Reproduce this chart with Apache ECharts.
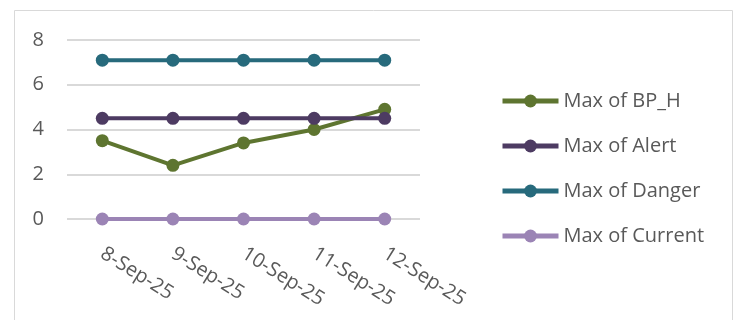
<!DOCTYPE html>
<html><head><meta charset="utf-8">
<script src="https://cdn.jsdelivr.net/npm/echarts@6/dist/echarts.min.js"></script>
<style>html,body{margin:0;padding:0;background:#fff}#c{width:738px;height:320px}</style>
</head><body><div id="c"></div>
<script>
const categories = ['8-Sep-25','9-Sep-25','10-Sep-25','11-Sep-25','12-Sep-25'];
const seriesNames = ['Max of BP_H','Max of Alert','Max of Danger','Max of Current'];
const bpH = [3.5, 2.4, 3.4, 4.0, 4.9];
const alertV = [4.5, 4.5, 4.5, 4.5, 4.5];
const dangerV = [7.1, 7.1, 7.1, 7.1, 7.1];
const currentV = [0, 0, 0, 0, 0];
const yTicks = [0, 2, 4, 6, 8];

const colors = ['#5E7530', '#4D3B62', '#276A7C', '#9B84B5'];
const dataSets = [bpH, alertV, dangerV, currentV];
const font = '"Open Sans", "Noto Sans", sans-serif';

const chart = echarts.init(document.getElementById('c'));
const series = seriesNames.map((n, i) => ({
  name: n, type: 'line', data: dataSets[i],
  symbol: 'circle', symbolSize: 13,
  lineStyle: {width: 4, color: colors[i]},
  itemStyle: {color: colors[i]},
  animation: false
}));
chart.setOption({
  animation: false,
  graphic: [{type: 'rect', shape: {x: 14.5, y: 10.5, width: 718, height: 330},
    style: {fill: 'none', stroke: '#D9D9D9', lineWidth: 1}, z: -10}],
  grid: {left: 67, right: 318, top: 40, bottom: 101, containLabel: false},
  xAxis: {
    type: 'category', data: categories, boundaryGap: true,
    axisLine: {show: false}, axisTick: {show: false},
    axisLabel: {rotate: -32, color: '#595959', fontSize: 20, fontFamily: font, margin: 33, interval: 0}
  },
  yAxis: {
    type: 'value', min: yTicks[0], max: yTicks[yTicks.length - 1], interval: 2,
    axisLine: {show: false}, axisTick: {show: false},
    axisLabel: {color: '#595959', fontSize: 20, fontFamily: font, margin: 23},
    splitLine: {lineStyle: {color: '#D9D9D9', width: 2}}
  },
  legend: {
    orient: 'vertical', left: 500, top: 89, itemGap: 21, padding: 0,
    itemWidth: 56, itemHeight: 16,
    lineStyle: {width: 5},
    data: seriesNames,
    textStyle: {color: '#595959', fontSize: 20, fontFamily: font, lineHeight: 24}
  },
  series: series
});
</script></body></html>
